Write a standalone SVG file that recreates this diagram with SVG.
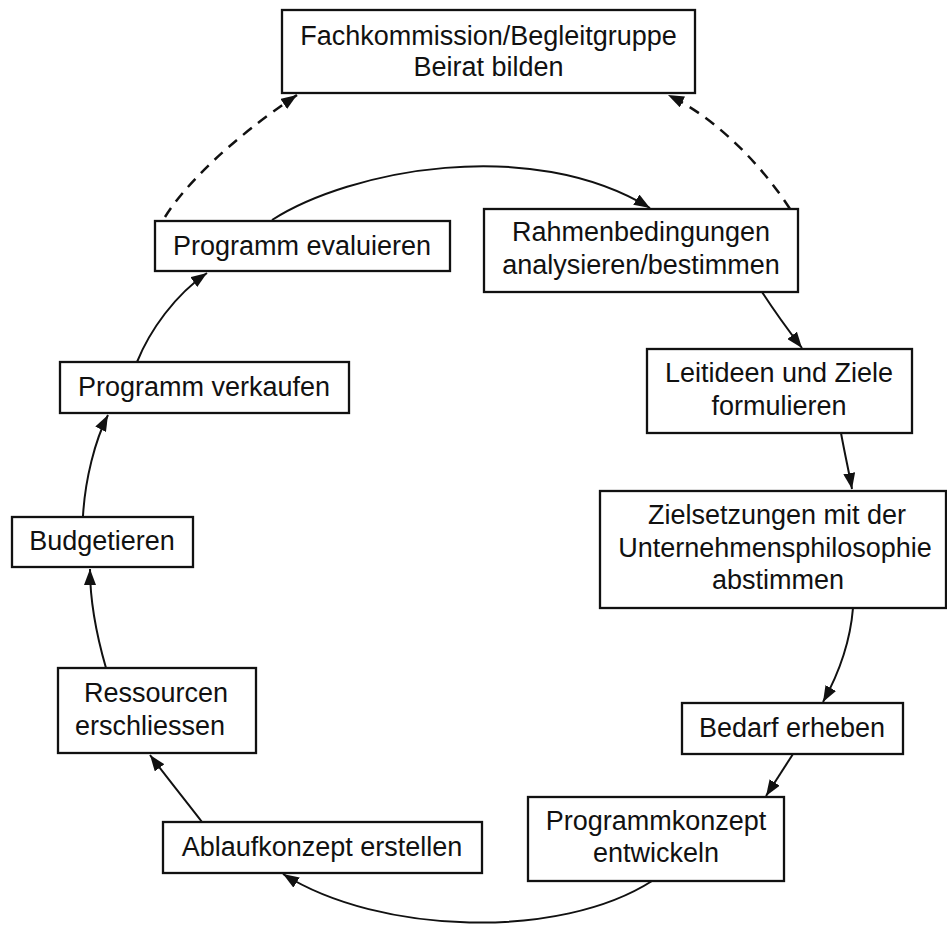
<svg xmlns="http://www.w3.org/2000/svg" width="947" height="926" viewBox="0 0 947 926">
<style>
.box{fill:#fff;stroke:#111;stroke-width:2.3}
.t{font-family:"Liberation Sans",Arial,sans-serif;font-size:27px;fill:#111;text-anchor:middle}
.c{fill:none;stroke:#111;stroke-width:2;marker-end:url(#ah)}
.d{stroke-width:2.5;stroke-dasharray:11 8}
</style>
<defs>
<marker id="ah" markerUnits="userSpaceOnUse" markerWidth="16" markerHeight="12" refX="16" refY="6" orient="auto">
<path d="M0,0 L16,6 L0,12 z" fill="#111"/>
</marker>
</defs>
<rect width="947" height="926" fill="#fff"/>
<g id="connectors">
<path class="c d" d="M165,217 C185,185 230,140 297,95"/>
<path class="c d" d="M790,209 C765,170 720,120 668,95"/>
<path class="c" d="M272,220 C350,170 530,135 650,208"/>
<path class="c" d="M762,292 C775,312 788,330 802,348"/>
<path class="c" d="M841,433 C845,455 849,472 852,489"/>
<path class="c" d="M853,608 C850,645 838,675 823,702"/>
<path class="c" d="M793,754 L766,796"/>
<path class="c" d="M652,881 C560,940 380,935 283,874"/>
<path class="c" d="M202,822 C185,800 165,775 150,755"/>
<path class="c" d="M106,668 C95,630 90,600 90,569"/>
<path class="c" d="M83,516 C85,480 95,440 108,415"/>
<path class="c" d="M137,362 C150,330 175,295 207,273"/>
</g>
<g id="n-beirat">
<rect class="box" x="282" y="10" width="413" height="83"/>
<text class="t" x="488.5" y="45">Fachkommission/Begleitgruppe</text>
<text class="t" x="488.5" y="76">Beirat bilden</text>
</g>
<g id="n-rahmen">
<rect class="box" x="484" y="209" width="314" height="83"/>
<text class="t" x="641" y="241">Rahmenbedingungen</text>
<text class="t" x="641" y="274">analysieren/bestimmen</text>
</g>
<g id="n-leitideen">
<rect class="box" x="647" y="349" width="265" height="84"/>
<text class="t" x="779" y="382">Leitideen und Ziele</text>
<text class="t" x="779" y="415">formulieren</text>
</g>
<g id="n-zielsetzungen">
<rect class="box" x="600" y="491" width="346" height="117"/>
<text class="t" x="777" y="524">Zielsetzungen mit der</text>
<text class="t" x="775" y="557">Unternehmensphilosophie</text>
<text class="t" x="778" y="589">abstimmen</text>
</g>
<g id="n-bedarf">
<rect class="box" x="682" y="703" width="221" height="51"/>
<text class="t" x="792" y="737">Bedarf erheben</text>
</g>
<g id="n-programmkonzept">
<rect class="box" x="528" y="797" width="256" height="84"/>
<text class="t" x="656" y="830">Programmkonzept</text>
<text class="t" x="656" y="862">entwickeln</text>
</g>
<g id="n-ablauf">
<rect class="box" x="163" y="822" width="319" height="51"/>
<text class="t" x="322" y="856">Ablaufkonzept erstellen</text>
</g>
<g id="n-ressourcen">
<rect class="box" x="58" y="668" width="198" height="85"/>
<text class="t" x="156" y="702">Ressourcen</text>
<text class="t" x="150" y="735">erschliessen</text>
</g>
<g id="n-budget">
<rect class="box" x="12" y="517" width="181" height="50"/>
<text class="t" x="102" y="550">Budgetieren</text>
</g>
<g id="n-verkaufen">
<rect class="box" x="60" y="362" width="289" height="51"/>
<text class="t" x="204" y="396">Programm verkaufen</text>
</g>
<g id="n-evaluieren">
<rect class="box" x="155" y="221" width="295" height="50"/>
<text class="t" x="302" y="255">Programm evaluieren</text>
</g>
</svg>
